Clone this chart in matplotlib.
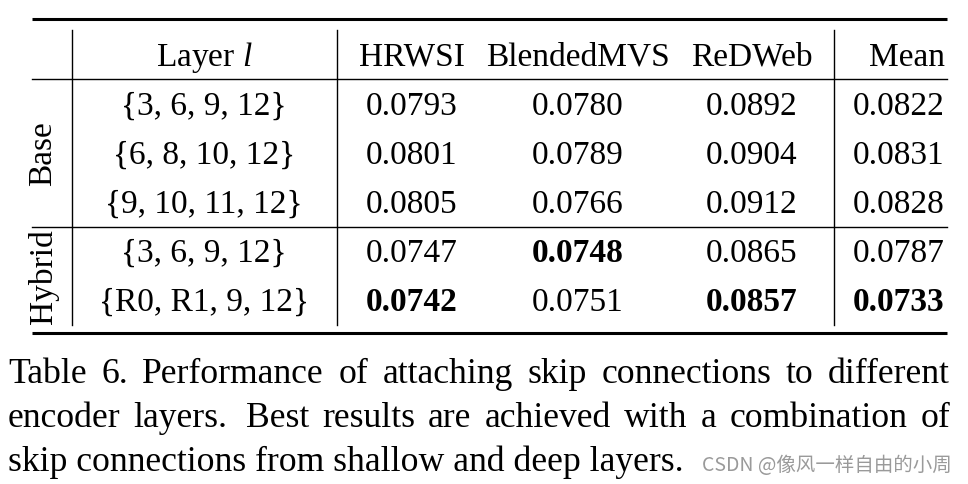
import matplotlib
matplotlib.use("Agg")
import matplotlib.pyplot as plt

plt.rcParams['mathtext.fontset'] = 'custom'
plt.rcParams['mathtext.rm'] = 'Liberation Serif'
plt.rcParams['mathtext.it'] = 'Liberation Serif:italic'
plt.rcParams['mathtext.bf'] = 'Liberation Serif:bold'

# ---- data ----
groups = ["Base", "Hybrid"]
group_sizes = [3, 2]
layers = ["{3, 6, 9, 12}", "{6, 8, 10, 12}", "{9, 10, 11, 12}",
          "{3, 6, 9, 12}", "{R0, R1, 9, 12}"]
columns = ["HRWSI", "BlendedMVS", "ReDWeb"]
hrwsi = [0.0793, 0.0801, 0.0805, 0.0747, 0.0742]
blendedmvs = [0.0780, 0.0789, 0.0766, 0.0748, 0.0751]
redweb = [0.0892, 0.0904, 0.0912, 0.0865, 0.0857]
mean = [0.0822, 0.0831, 0.0828, 0.0787, 0.0733]
caption_lines = ["Table 6. Performance of attaching skip connections to different",
                 "encoder layers.  Best results are achieved with a combination of",
                 "skip connections from shallow and deep layers."]
watermark = "CSDN @像风一样自由的小周"

W, H = 968, 485
fig = plt.figure(figsize=(W / 100, H / 100), dpi=100)
ax = fig.add_axes([0, 0, 1, 1])
ax.set_xlim(0, W)
ax.set_ylim(H, 0)
ax.axis("off")

FS = 24
CFS = 25.7
serif = "Liberation Serif"

# rules
ax.plot([32, 947], [20, 20], color="black", lw=2.2, solid_capstyle="butt")
ax.plot([32, 947], [80, 80], color="black", lw=1.0)
ax.plot([32, 947], [228, 228], color="black", lw=1.0)
ax.plot([32, 947], [334, 334], color="black", lw=2.2, solid_capstyle="butt")
for x in [72, 336.5, 833.5]:
    ax.plot([x, x], [31, 326], color="black", lw=1.0)

# header
hb = 66
ax.text(204, hb, r"Layer $\mathit{l}$", fontsize=FS, family=serif, ha="center", va="baseline")
col_x = [412, 578, 752]
for cx, name in zip(col_x, columns):
    ax.text(cx, hb, name, fontsize=FS, family=serif, ha="center", va="baseline")
ax.text(945, hb, "Mean", fontsize=FS, family=serif, ha="right", va="baseline")

# rows
row_base = [115, 164, 213, 262, 311]
series = [hrwsi, blendedmvs, redweb, mean]
xs = col_x + [899]
for j, vals in enumerate(series):
    best = min(vals)
    for i, v in enumerate(vals):
        ax.text(xs[j], row_base[i], f"{v:.4f}", fontsize=FS, family=serif,
                ha="center", va="baseline",
                fontweight="bold" if v == best else "normal")
for i, lab in enumerate(layers):
    ax.text(204, row_base[i], lab, fontsize=FS, family=serif, ha="center", va="baseline")

# group labels
start = 0
for g, n in zip(groups, group_sizes):
    yc = (row_base[start] + row_base[start + n - 1]) / 2 - 10
    ax.text(43, yc, g, fontsize=FS, family=serif, rotation=90, ha="center", va="center")
    start += n

# caption (justified)
fig.canvas.draw()
r = fig.canvas.get_renderer()
cap_base = [383, 427, 471]
left, right = 8, 950
for k, line in enumerate(caption_lines):
    if k == len(caption_lines) - 1:
        ax.text(left, cap_base[k], line, fontsize=CFS, family=serif, ha="left", va="baseline")
        continue
    words = line.split(" ")
    # double spaces (sentence spacing) count as an extra gap
    toks = []
    extra = []
    for w in words:
        if w == "":
            extra[-1] += 1
        else:
            toks.append(w)
            extra.append(0)
    ts = [ax.text(0, cap_base[k], w, fontsize=CFS, family=serif, ha="left", va="baseline") for w in toks]
    widths = [t.get_window_extent(r).width for t in ts]
    ngaps = (len(toks) - 1) + 0.4 * sum(extra)
    gap = (right - left - sum(widths)) / ngaps
    x = left
    for t, w, e in zip(ts, widths, extra):
        t.set_x(x)
        x += w + gap * (1 + 0.4 * e)

ax.text(952, 466, watermark, fontsize=14, family=["Noto Sans CJK SC", "DejaVu Sans"],
        color="#9a9a9a", ha="right", va="center")

fig.savefig("out.png", dpi=100)
